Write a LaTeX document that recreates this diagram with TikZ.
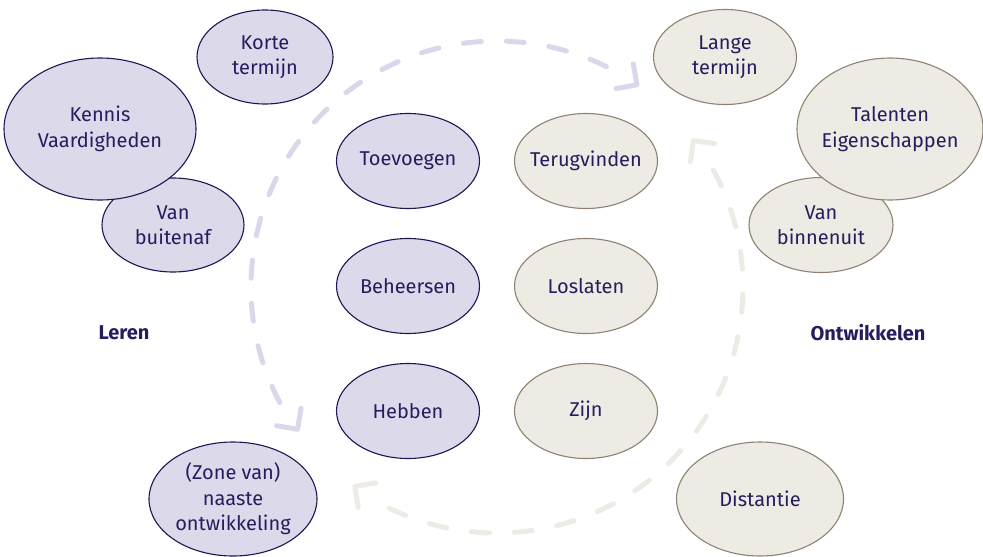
\documentclass[tikz,border=0pt]{standalone}
\usepackage{fontspec}
\setmainfont{Fira Sans}
\usetikzlibrary{shapes.geometric, calc}

\definecolor{ink}{HTML}{251E5E}
\definecolor{lilafill}{HTML}{DCD9EB}
\definecolor{lilaline}{HTML}{1E1655}
\definecolor{zandfill}{HTML}{EEEBE4}
\definecolor{zandline}{HTML}{8E8371}
\definecolor{lilaboog}{HTML}{DAD7EA}
\definecolor{zandboog}{HTML}{EDEBE4}

\begin{document}
\begin{tikzpicture}[x=1pt, y=-1pt,
  % negative inner sep keeps the ellipse at its minimum size around long words
  bubble/.style={ellipse, inner xsep=-25pt, inner ysep=-10pt, align=center, text=ink,
    font=\fontsize{20}{25.5}\selectfont, line width=1.1pt},
  leer/.style={bubble, fill=lilafill, draw=lilaline},
  groei/.style={bubble, fill=zandfill, draw=zandline},
  klein/.style={minimum width=143pt, minimum height=95pt},
  kop/.style={text=ink, font=\fontsize{20}{24}\selectfont\bfseries},
  boog/.style={line width=5pt, line cap=round, dash pattern=on 18pt off 25pt},
  punt/.style={line width=5pt, line cap=round, line join=round}
]
\useasboundingbox (0,0) rectangle (983,557);

% centre of the circular cycle
\coordinate (C) at (497,287);

% dashed cycle: learning arc (lilac) and development arc (sand)
\draw[boog, lilaboog] ($(C)+(-208:246)$) arc (-208:-63:246);
\draw[boog, zandboog] ($(C)+(-28.4:246)$) arc (-28.4:117.8:246);

% chevron heads at the arc ends
\coordinate (p1) at ($(C)+(-215.5:245)$);
\coordinate (p2) at ($(C)+(-55.3:246)$);
\coordinate (p3) at ($(C)+(-36.7:245)$);
\coordinate (p4) at ($(C)+(-234.5:245)$);
\begin{scope}[shift={(p1)}, rotate=305.5]
  \draw[punt, lilaboog] (-15,-15) -- (0,0) -- (-15,15);
\end{scope}
\begin{scope}[shift={(p2)}, rotate=-34.7]
  \draw[punt, lilaboog] (-15,-15) -- (0,0) -- (-15,15);
\end{scope}
\begin{scope}[shift={(p3)}, rotate=126.7]
  \draw[punt, zandboog] (-15,-15) -- (0,0) -- (-15,15);
\end{scope}
\begin{scope}[shift={(p4)}, rotate=144.5]
  \draw[punt, zandboog] (-15,-15) -- (0,0) -- (-15,15);
\end{scope}

% learning side
\node[leer, minimum width=136pt, minimum height=94pt] (korte) at (265,57) {Korte\\termijn};
\node[leer, minimum width=142pt, minimum height=94pt] (buiten) at (173,225) {Van\\buitenaf};
\node[leer, minimum width=192pt, minimum height=142pt] (kennis) at (100,129) {Kennis\\Vaardigheden};
\node[leer, klein] (toevoegen) at (408,161) {Toevoegen};
\node[leer, klein] (beheersen) at (408,286) {Beheersen};
\node[leer, klein] (hebben) at (408,411) {Hebben};
\node[leer, minimum width=168pt, minimum height=114pt] (zone) at (233,499) {(Zone van)\\naaste\\ontwikkeling};
\node[kop] (leren) at (124,333) {Leren};

% development side
\node[groei, minimum width=143pt, minimum height=95pt] (lange) at (725,57) {Lange\\termijn};
\node[groei, minimum width=144pt, minimum height=95pt] (binnen) at (821,225) {Van\\binnenuit};
\node[groei, minimum width=186pt, minimum height=142pt] (talenten) at (890,129) {Talenten\\Eigenschappen};
\node[groei, klein] (terug) at (586,161) {Terugvinden};
\node[groei, klein] (loslaten) at (586,286) {Loslaten};
\node[groei, klein] (zijn) at (586,411) {Zijn};
\node[groei, minimum width=167pt, minimum height=114pt] (distantie) at (760,499) {Distantie};
\node[kop] (ontwikkelen) at (868,333) {Ontwikkelen};
\end{tikzpicture}
\end{document}
